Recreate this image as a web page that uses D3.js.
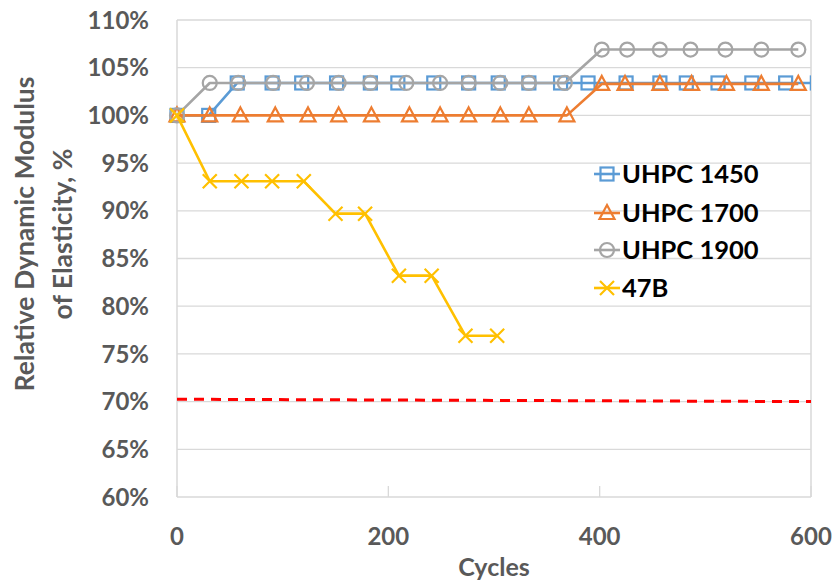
<!DOCTYPE html>
<html><head><meta charset="utf-8">
<script src="https://cdn.jsdelivr.net/npm/d3@7"></script>
<style>body{margin:0;background:#fff}svg{display:block}text{font-family:Lato,"Open Sans",sans-serif;font-weight:700}</style>
</head><body>
<svg id="c" width="839" height="586"></svg>
<script>
const seriesNames = ["UHPC 1450", "UHPC 1700", "UHPC 1900", "47B"];
const cycles1450 = [0, 30, 57, 90, 118, 151, 183, 209, 243, 276, 304, 333, 363, 389, 425, 457, 482, 512, 544, 576, 606];
const values1450 = [100, 100, 103.4, 103.4, 103.4, 103.4, 103.4, 103.4, 103.4, 103.4, 103.4, 103.4, 103.4, 103.4, 103.4, 103.4, 103.4, 103.4, 103.4, 103.4, 103.4];
const cycles1700 = [0, 31, 60, 93, 124, 153, 184, 220, 249, 276, 306, 333, 369, 402, 424, 457, 487, 520, 553, 588];
const values1700 = [100, 100, 100, 100, 100, 100, 100, 100, 100, 100, 100, 100, 100, 103.3, 103.3, 103.3, 103.3, 103.3, 103.3, 103.3];
const cycles1900 = [0, 31, 58, 91, 123, 153, 183, 217, 249, 276, 306, 333, 367, 402, 426, 457, 486, 519, 553, 588];
const values1900 = [100, 103.4, 103.4, 103.4, 103.4, 103.4, 103.4, 103.4, 103.4, 103.4, 103.4, 103.4, 103.4, 106.9, 106.9, 106.9, 106.9, 106.9, 106.9, 106.9];
const cycles47B = [0, 31, 61, 90, 120, 150, 178, 210, 241, 273, 303];
const values47B = [100, 93.1, 93.1, 93.1, 93.1, 89.7, 89.7, 83.2, 83.2, 76.9, 76.9];
const limitCycles = [0, 600];
const limitValues = [70.25, 70.0];
const xTicks = [0, 200, 400, 600];
const yTicks = [60, 65, 70, 75, 80, 85, 90, 95, 100, 105, 110];
const colors = ["#5B9BD5", "#ED7D31", "#A5A5A5", "#FFC000"];
const markers = ["square", "triangle", "circle", "x"];

const svg = d3.select("#c");
const L = 177, R = 811, T = 20, B = 497;
const x = d3.scaleLinear().domain([0, 600]).range([L, R]);
const y = d3.scaleLinear().domain([60, 110]).range([B, T]);
const grid = "#d9d9d9", txt = "#595959";

// gridlines
svg.append("g").selectAll("line").data(yTicks).join("line")
  .attr("x1", L).attr("x2", R).attr("y1", d => y(d)).attr("y2", d => y(d))
  .attr("stroke", grid).attr("stroke-width", 1.3);
svg.append("line").attr("x1", L).attr("x2", L).attr("y1", T).attr("y2", B).attr("stroke", grid).attr("stroke-width", 1.5);
svg.append("line").attr("x1", R).attr("x2", R).attr("y1", T).attr("y2", B).attr("stroke", grid).attr("stroke-width", 1.5);
// x ticks (inside)
svg.append("g").selectAll("line").data(xTicks).join("line")
  .attr("x1", d => x(d)).attr("x2", d => x(d)).attr("y1", B).attr("y2", B - 11)
  .attr("stroke", grid).attr("stroke-width", 1.3);

// tick labels
svg.append("g").selectAll("text").data(yTicks).join("text")
  .attr("x", 149).attr("y", d => y(d)).attr("dy", "0.36em").attr("text-anchor", "end")
  .attr("font-size", 24).attr("fill", txt).text(d => d + "%");
svg.append("g").selectAll("text").data(xTicks).join("text")
  .attr("x", d => x(d)).attr("y", 545).attr("text-anchor", "middle")
  .attr("font-size", 24).attr("fill", txt).text(d => d);
svg.append("text").attr("x", (L + R) / 2).attr("y", 576).attr("text-anchor", "middle")
  .attr("font-size", 25).attr("fill", txt).text("Cycles");
const yt = svg.append("text").attr("transform", `translate(0,234) rotate(-90)`)
  .attr("text-anchor", "middle").attr("font-size", 26.5).attr("fill", txt);
yt.append("tspan").attr("x", 0).attr("y", 34).text("Relative Dynamic Modulus");
yt.append("tspan").attr("x", 0).attr("y", 72).text("of Elasticity, %");

// clip
svg.append("clipPath").attr("id", "clip").append("rect").attr("x", L - 10).attr("y", 0).attr("width", R - L + 10).attr("height", B + 10);
const plot = svg.append("g").attr("clip-path", "url(#clip)");

// red limit
plot.append("path")
  .datum(limitCycles.map((c, i) => [c, limitValues[i]]))
  .attr("d", d3.line().x(d => x(d[0])).y(d => y(d[1])))
  .attr("fill", "none").attr("stroke", "#FF0000").attr("stroke-width", 3).attr("stroke-dasharray", "10,7");

const allCycles = [cycles1450, cycles1700, cycles1900, cycles47B];
const allValues = [values1450, values1700, values1900, values47B];

function drawMarker(g, type, color, cx, cy) {
  if (type === "square") {
    g.append("rect").attr("x", cx - 6.5).attr("y", cy - 6.5).attr("width", 13).attr("height", 13)
      .attr("fill", "none").attr("stroke", color).attr("stroke-width", 2.2);
  } else if (type === "triangle") {
    g.append("path").attr("d", `M${cx},${cy - 8}L${cx + 7.5},${cy + 6}L${cx - 7.5},${cy + 6}Z`)
      .attr("fill", "none").attr("stroke", color).attr("stroke-width", 2.2);
  } else if (type === "circle") {
    g.append("circle").attr("cx", cx).attr("cy", cy).attr("r", 7)
      .attr("fill", "none").attr("stroke", color).attr("stroke-width", 2.2);
  } else {
    g.append("path").attr("d", `M${cx - 7},${cy - 7}L${cx + 7},${cy + 7}M${cx - 7},${cy + 7}L${cx + 7},${cy - 7}`)
      .attr("fill", "none").attr("stroke", color).attr("stroke-width", 2.2);
  }
}

seriesNames.forEach((name, s) => {
  const pts = allCycles[s].map((c, i) => [c, allValues[s][i]]);
  const g = plot.append("g");
  g.append("path").datum(pts)
    .attr("d", d3.line().x(d => x(d[0])).y(d => y(d[1])))
    .attr("fill", "none").attr("stroke", colors[s]).attr("stroke-width", 2.6).attr("stroke-linejoin", "round");
  pts.forEach(p => drawMarker(g, markers[s], colors[s], x(p[0]), y(p[1])));
});

// legend
const legY = [174, 213, 250, 288];
seriesNames.forEach((name, s) => {
  const g = svg.append("g");
  g.append("line").attr("x1", 594).attr("x2", 620).attr("y1", legY[s]).attr("y2", legY[s])
    .attr("stroke", colors[s]).attr("stroke-width", 2.6);
  drawMarker(g, markers[s], colors[s], 607, legY[s]);
  g.append("text").attr("x", 622).attr("y", legY[s]).attr("dy", "0.36em")
    .attr("font-size", 25.5).attr("fill", "#000").text(name);
});
</script>
</body></html>
